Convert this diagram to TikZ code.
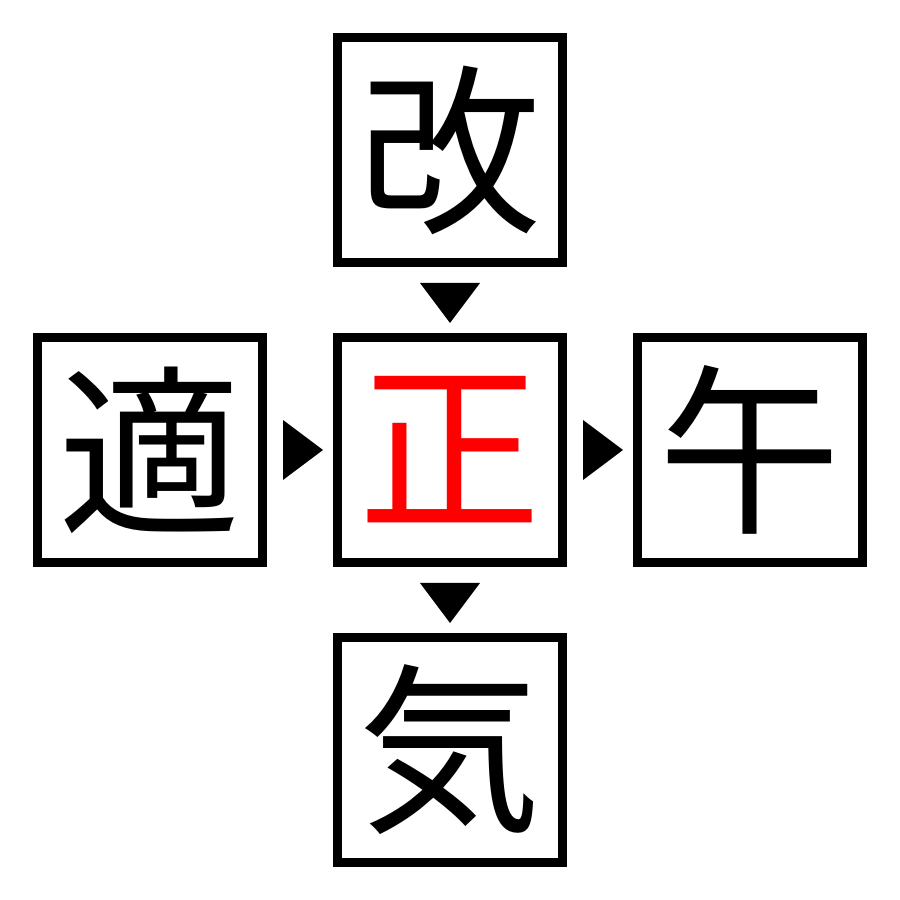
\documentclass[tikz,border=0pt]{standalone}
\usepackage{fontspec}
\newfontfamily\cjk{Noto Sans CJK JP}
\begin{document}
\begin{tikzpicture}
\tikzset{kbox/.style={draw=black,line width=0.09cm,minimum size=2.25cm,inner sep=0pt,font=\cjk\fontsize{52}{52}\selectfont},
tri/.style={fill=black}}
\useasboundingbox (0,0) rectangle (9,9);
\node[kbox] (t) at (4.5,7.5) {改};
\node[kbox] (l) at (1.5,4.5) {適};
\node[kbox,text=red] (c) at (4.5,4.5) {正};
\node[kbox] (r) at (7.5,4.5) {午};
\node[kbox] (b) at (4.5,1.5) {気};
\fill[tri] (4.2,6.17) -- (4.8,6.17) -- (4.5,5.77) -- cycle;
\fill[tri] (4.2,3.17) -- (4.8,3.17) -- (4.5,2.77) -- cycle;
\fill[tri] (2.83,4.8) -- (2.83,4.2) -- (3.23,4.5) -- cycle;
\fill[tri] (5.83,4.8) -- (5.83,4.2) -- (6.23,4.5) -- cycle;
\end{tikzpicture}
\end{document}
